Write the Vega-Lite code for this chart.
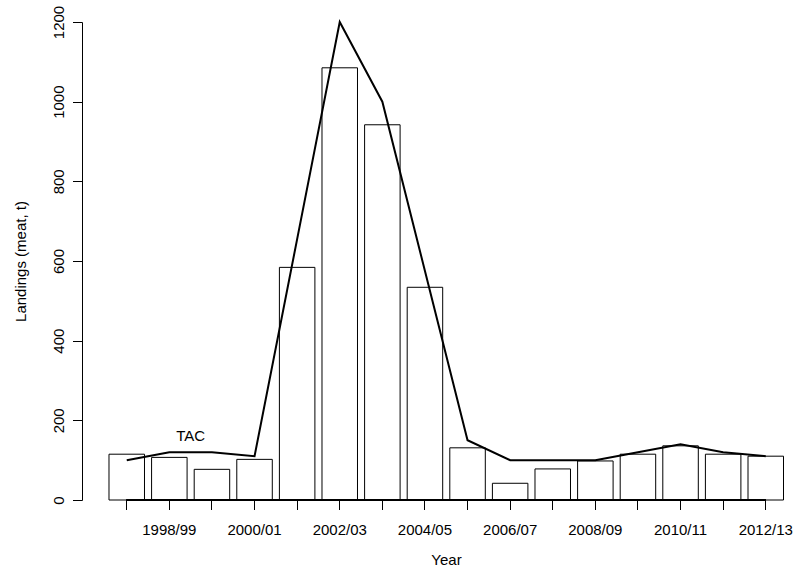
{
  "$schema": "https://vega.github.io/schema/vega-lite/v6.json",
  "width": 712,
  "height": 478,
  "autosize": {"type": "none"},
  "padding": {"left": 82, "top": 22, "right": 0, "bottom": 69},
  "background": "white",
  "config": {
    "view": {"stroke": null},
    "font": "Liberation Sans",
    "axis": {
      "grid": false,
      "domainColor": "black",
      "tickColor": "black",
      "labelColor": "black",
      "titleColor": "black",
      "labelFont": "Liberation Sans",
      "titleFont": "Liberation Sans",
      "labelFontSize": 15,
      "titleFontSize": 15,
      "titleFontWeight": "normal",
      "tickSize": 9.5,
      "domainWidth": 1,
      "tickWidth": 1
    }
  },
  "data": {
    "values": [
      {"year": "1997/98", "landings": 115, "tac": 100},
      {"year": "1998/99", "landings": 107, "tac": 120},
      {"year": "1999/00", "landings": 77, "tac": 120},
      {"year": "2000/01", "landings": 102, "tac": 110},
      {"year": "2001/02", "landings": 584, "tac": 655},
      {"year": "2002/03", "landings": 1085, "tac": 1200},
      {"year": "2003/04", "landings": 942, "tac": 1000},
      {"year": "2004/05", "landings": 534, "tac": 575},
      {"year": "2005/06", "landings": 131, "tac": 150},
      {"year": "2006/07", "landings": 42, "tac": 100},
      {"year": "2007/08", "landings": 78, "tac": 100},
      {"year": "2008/09", "landings": 98, "tac": 100},
      {"year": "2009/10", "landings": 115, "tac": 120},
      {"year": "2010/11", "landings": 136, "tac": 140},
      {"year": "2011/12", "landings": 115, "tac": 120},
      {"year": "2012/13", "landings": 110, "tac": 110}
    ]
  },
  "layer": [
    {
      "mark": {"type": "bar", "fill": "white", "stroke": "black", "strokeWidth": 1},
      "encoding": {
        "x": {
          "field": "year",
          "type": "ordinal",
          "sort": null,
          "scale": {"type": "band", "paddingInner": 0.1667, "paddingOuter": 0.44, "align": 0.72},
          "axis": {
            "title": "Year",
            "domain": false,
            "labelAngle": 0,
            "labelAlign": "center",
            "labelBaseline": "top",
            "labelOverlap": false,
            "labelPadding": 13,
            "labelExpr": "toNumber(substring(datum.value,0,4)) % 2 == 0 ? datum.value : ''",
            "titleX": 364,
            "titleY": 59,
            "titleAlign": "center",
            "titleBaseline": "middle"
          }
        },
        "y": {
          "field": "landings",
          "type": "quantitative",
          "scale": {"domain": [0, 1200], "nice": false, "zero": true},
          "axis": {
            "title": "Landings (meat, t)",
            "format": "d",
            "values": [0, 200, 400, 600, 800, 1000, 1200],
            "labelAngle": -90,
            "labelAlign": "center",
            "labelBaseline": "alphabetic",
            "labelPadding": 9,
            "titleX": -62,
            "titleY": 239,
            "titleAngle": -90,
            "titleAlign": "center",
            "titleBaseline": "middle"
          }
        }
      }
    },
    {
      "mark": {"type": "line", "color": "black", "strokeWidth": 2},
      "encoding": {
        "x": {"field": "year", "type": "ordinal", "sort": null},
        "y": {"field": "tac", "type": "quantitative"}
      }
    },
    {
      "mark": {"type": "rule", "color": "black", "strokeWidth": 1},
      "encoding": {
        "x": {"datum": "1997/98", "bandPosition": 0.5},
        "x2": {"datum": "2012/13", "bandPosition": 0.5},
        "y": {"datum": 0}
      }
    },
    {
      "data": {"values": [{"label": "TAC", "year": "1998/99", "value": 160}]},
      "mark": {"type": "text", "fontSize": 15, "baseline": "middle", "align": "center", "color": "black", "font": "Liberation Sans"},
      "encoding": {
        "x": {"field": "year", "type": "ordinal", "sort": null, "bandPosition": 1.1},
        "y": {"field": "value", "type": "quantitative"},
        "text": {"field": "label"}
      }
    }
  ]
}
